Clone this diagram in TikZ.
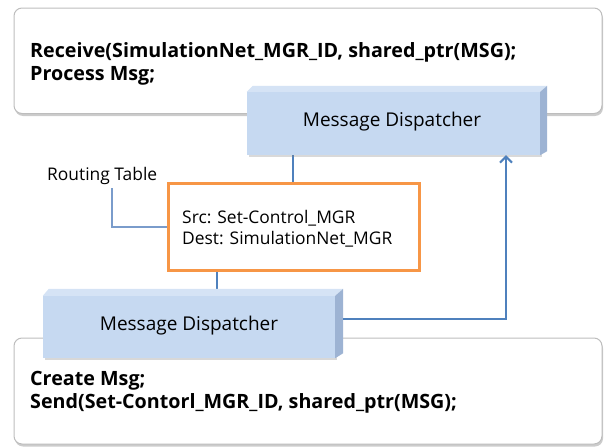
\documentclass[tikz,border=0pt]{standalone}
\usepackage{fontspec}
\setmainfont{Open Sans}
\usetikzlibrary{arrows.meta,shadows,calc}
\definecolor{dfront}{HTML}{C6D9F1}
\definecolor{dtop}{HTML}{D5E3F5}
\definecolor{dside}{HTML}{9DB3D3}
\definecolor{conncol}{HTML}{4F81BD}
\definecolor{leadcol}{HTML}{7A9CCB}
\definecolor{orangecol}{HTML}{F79646}
\definecolor{boxline}{HTML}{BDBDBD}
\tikzset{
  pane/.style={draw=boxline, line width=1pt, rounded corners=8pt, fill=white,
    drop shadow={shadow xshift=1pt, shadow yshift=-2.5pt, opacity=0.4}},
  dfrontbox/.style={fill=dfront, draw=none, inner sep=0pt,
    drop shadow={shadow xshift=1.5pt, shadow yshift=-2pt, opacity=0.3}},
  conn/.style={draw=conncol, line width=2pt},
  lead/.style={draw=leadcol, line width=1.5pt},
  rtbox/.style={draw=orangecol, line width=3pt, fill=white, inner sep=0pt},
  codetxt/.style={font=\fontsize{19.7}{23}\selectfont\bfseries, anchor=base west, inner sep=0pt},
  disptxt/.style={font=\fontsize{19}{22}\selectfont, inner sep=0pt},
  smalltxt/.style={font=\fontsize{17.4}{21}\selectfont, anchor=base west, inner sep=0pt},
}
\begin{document}
\begin{tikzpicture}[x=1pt,y=-1pt]
\useasboundingbox (0,0) rectangle (606,447);

% panes
\node[pane, minimum width=588pt, minimum height=105.5pt] (topbox) at (308,60.75) {};
\node[pane, minimum width=588pt, minimum height=106pt] (botbox) at (308,391) {};

% routing table
\node[rtbox, minimum width=251pt, minimum height=87pt] (rt) at (294,227) {};
\node[smalltxt] (src) at (182,223) {Src: Set-Control\_MGR};
\node[smalltxt] (dest) at (182,244) {Dest: SimulationNet\_MGR};
\node[smalltxt] (rtlabel) at (47,180) {Routing Table};

% code texts
\node[codetxt] (recv) at (30,57) {Receive(SimulationNet\_MGR\_ID, shared\_ptr(MSG);};
\node[codetxt] (proc) at (30,80) {Process Msg;};
\node[codetxt] (create) at (30,385) {Create Msg;};
\node[codetxt] (send) at (30,408) {Send(Set-Contorl\_MGR\_ID, shared\_ptr(MSG);};

% coordinates for connectors
\coordinate (xa) at (293,0);
\coordinate (xb) at (217,0);
\coordinate (xc) at (506,0);
\coordinate (xl) at (112,0);
\coordinate (d2side) at (343,319);

% connectors (under the dispatchers)
\draw[conn] (xa |- 0,150) -- (rt.north -| xa);
\draw[conn] (rt.south -| xb) -- (xb |- 0,300);
\draw[lead] (rtlabel.south -| xl) ++(0,4) |- (rt.west |- 0,227);

% upper dispatcher
\node[dfrontbox, minimum width=293pt, minimum height=63pt] (disp1) at (393.5,123.5) {};
\fill[dtop] (disp1.north west) -- ++(6,-6) -- ([shift={(7,-6)}]disp1.north east) -- (disp1.north east) -- cycle;
\fill[dside] (disp1.north east) -- ++(7,-6) -- ([shift={(7,-4)}]disp1.south east) -- (disp1.south east) -- cycle;
\node[disptxt] (disp1txt) at (392,122) {Message Dispatcher};

% lower dispatcher
\node[dfrontbox, minimum width=292pt, minimum height=62pt] (disp2) at (189,327) {};
\fill[dtop] (disp2.north west) -- ++(6,-7) -- ([shift={(8,-7)}]disp2.north east) -- (disp2.north east) -- cycle;
\fill[dside] (disp2.north east) -- ++(8,-7) -- ([shift={(8,-5)}]disp2.south east) -- (disp2.south east) -- cycle;
\node[disptxt] (disp2txt) at (189,326) {Message Dispatcher};

% feedback arrow
\draw[conn, -{Straight Barb[length=6pt,width=12pt,line width=2pt]}] (d2side) -| (disp1.south -| xc);
\end{tikzpicture}
\end{document}
